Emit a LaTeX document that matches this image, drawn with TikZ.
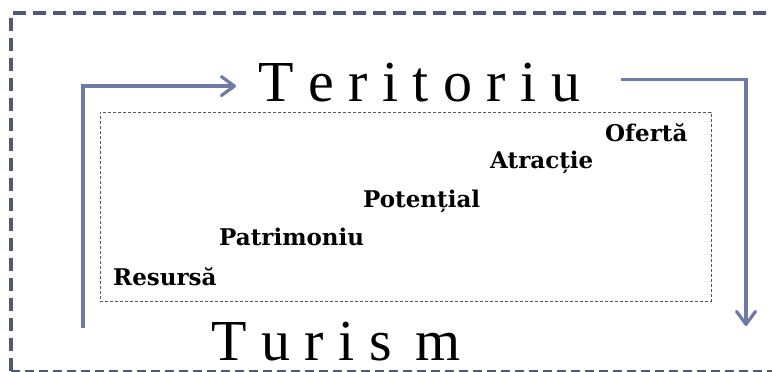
\documentclass[tikz,border=0pt]{standalone}
\usepackage{fontspec}
\setmainfont{Liberation Serif}
\newfontfamily\labelfont{DejaVu Serif}
\usetikzlibrary{arrows.meta,positioning,calc}

\definecolor{framecol}{HTML}{525875}
\definecolor{arrowcol}{HTML}{6F7BA7}
\definecolor{fieldcol}{HTML}{4F5577}

\begin{document}
\begin{tikzpicture}[
  x=1pt, y=-1pt,
  big/.style  ={font=\fontsize{58}{60}\selectfont, inner sep=0pt, anchor=base west},
  term/.style ={font=\labelfont\bfseries\fontsize{23}{26}\selectfont, inner sep=0pt, anchor=base west},
  outer/.style={framecol, line width=4pt, dash pattern=on 13pt off 7pt},
  base/.style ={framecol, line width=1.6pt, dash pattern=on 9pt off 5pt},
  field/.style={draw=fieldcol, line width=0.9pt, dash pattern=on 3pt off 2pt,
                minimum width=611pt, minimum height=189pt, inner sep=0pt},
  flow/.style ={-{Straight Barb[length=13pt,width=19pt,round]}, arrowcol, line width=3.2pt},
]
\useasboundingbox (0,0) rectangle (772,372);

% ---------- Outer frame ----------
\begin{scope}
  \clip (0,0) rectangle (772,372);
  \draw[outer] (11,371) -- (11,13) -- (790,13);
  \draw[base]  (11,370.8) -- (790,370.8);
\end{scope}

% ---------- Field of terms ----------
\node[field] (field) at (405.5,206.5) {};

\node[term] (oferta)     at (605,141.5) {Ofertă};
\node[term] (atractie)   at (490,168)   {Atracție};
\node[term] (potential)  at (363,207)   {Potențial};
\node[term] (patrimoniu) at (219,245)   {Patrimoniu};
\node[term] (resursa)    at (113,285)   {Resursă};

% ---------- Titles ----------
\node[big] (teritoriu) at (258,101.5) {T e r i t o r i u};
\node[big] (turism)    at (211,360)   {T u r i s\, m};

% ---------- Cycle arrows ----------
\coordinate (start) at (83,328);
\coordinate (stop)  at (746,326);

\draw[flow] (start) |- ([xshift=-22pt,yshift=-3.5pt]teritoriu.west);
\draw[flow] ([xshift=40pt,yshift=3pt]teritoriu.east) -| (stop);

\end{tikzpicture}
\end{document}
